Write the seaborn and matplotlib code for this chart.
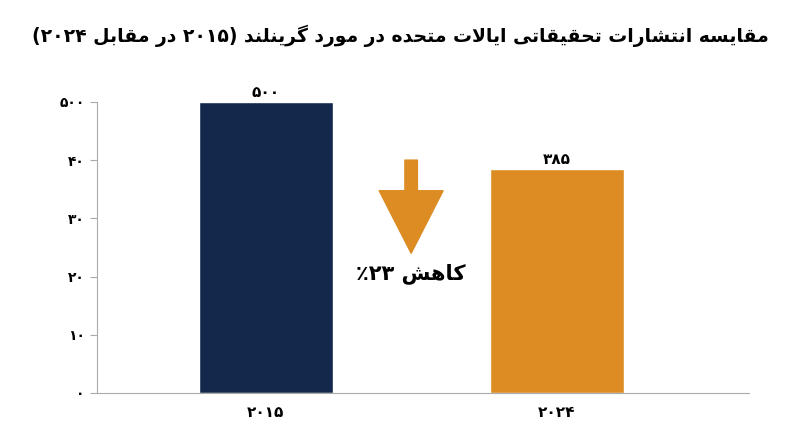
import matplotlib
matplotlib.use("Agg")
import matplotlib.pyplot as plt
import seaborn as sns

years = ["۲۰۱۵", "۲۰۲۴"]
counts = [500, 385]
count_labels = ["۵۰۰", "۳۸۵"]
ytick_vals = [0, 100, 200, 300, 400, 500]
ytick_labels = ["۰", "۱۰", "۲۰", "۳۰", "۴۰", "۵۰۰"]
colors = ["#14284b", "#dc8c23"]
title = "مقایسه انتشارات تحقیقاتی ایالات متحده در مورد گرینلند (۲۰۱۵ در مقابل ۲۰۲۴)"
change_text = "کاهش ۲۳٪"

# minimal Persian shaping (matplotlib does no Arabic joining or bidi)
FORMS = {
    "ا": (0xFE8D, 0xFE8E), "د": (0xFEA9, 0xFEAA), "ر": (0xFEAD, 0xFEAE), "و": (0xFEED, 0xFEEE),
    "ب": (0xFE8F, 0xFE90, 0xFE91, 0xFE92), "ت": (0xFE95, 0xFE96, 0xFE97, 0xFE98),
    "ح": (0xFEA1, 0xFEA2, 0xFEA3, 0xFEA4), "س": (0xFEB1, 0xFEB2, 0xFEB3, 0xFEB4),
    "ش": (0xFEB5, 0xFEB6, 0xFEB7, 0xFEB8), "ق": (0xFED5, 0xFED6, 0xFED7, 0xFED8),
    "ل": (0xFEDD, 0xFEDE, 0xFEDF, 0xFEE0), "م": (0xFEE1, 0xFEE2, 0xFEE3, 0xFEE4),
    "ن": (0xFEE5, 0xFEE6, 0xFEE7, 0xFEE8), "ه": (0xFEE9, 0xFEEA, 0xFEEB, 0xFEEC),
    "ک": (0xFB8E, 0xFB8F, 0xFB90, 0xFB91), "گ": (0xFB92, 0xFB93, 0xFB94, 0xFB95),
    "ی": (0xFBFC, 0xFBFD, 0xFBFE, 0xFBFF),
}


def shape(s):
    chars = list(s)
    out = []
    i = 0
    while i < len(chars):
        c = chars[i]
        if c not in FORMS:
            out.append(c)
            i += 1
            continue
        prev = chars[i - 1] if i > 0 else ""
        pj = prev in FORMS and len(FORMS[prev]) == 4
        if c == "ل" and i + 1 < len(chars) and chars[i + 1] == "ا":
            out.append(chr(0xFEFC if pj else 0xFEFB))
            i += 2
            continue
        nxt = chars[i + 1] if i + 1 < len(chars) else ""
        nj = nxt in FORMS and len(FORMS[c]) == 4
        f = FORMS[c]
        if pj and nj:
            g = f[3]
        elif pj:
            g = f[1]
        elif nj:
            g = f[2]
        else:
            g = f[0]
        out.append(chr(g))
        i += 1
    vis = "".join(out)[::-1]
    # restore digit runs, mirror parentheses
    res, run = [], ""
    for ch in vis:
        if "۰" <= ch <= "۹":
            run += ch
        else:
            res.append(run[::-1]); run = ""
            res.append({"(": ")", ")": "("}.get(ch, ch))
    res.append(run[::-1])
    return "".join(res)


sns.set_style("white")
plt.rcParams["font.family"] = ["DejaVu Sans"]

fig = plt.figure(figsize=(8, 4.47), dpi=100)
ax = fig.add_axes([0.121, 0.121, 0.815, 0.651])
sns.barplot(x=years, y=counts, palette=colors, hue=years, legend=False, width=0.46,
            saturation=1, ax=ax)
ax.set_xlim(-0.58, 1.66)
ax.set_ylim(0, 500)
for i, (v, lab) in enumerate(zip(counts, count_labels)):
    ax.text(i, v + 4, lab, ha="center", va="bottom", fontsize=11, fontweight="bold",
            color="black", clip_on=False)

ax.annotate("", xy=(0.5, 240), xytext=(0.5, 400),
            arrowprops=dict(facecolor=colors[1], edgecolor=colors[1], width=9, headwidth=46, headlength=45))
ax.text(0.5, 205, shape(change_text), ha="center", va="center", fontsize=15, fontweight="bold",
        color="black")

ax.set_yticks(ytick_vals)
ax.set_yticklabels(ytick_labels, fontsize=10, fontweight="bold")
ax.set_xticks([0, 1])
ax.set_xticklabels(years, fontsize=11, fontweight="bold")
ax.tick_params(axis="both", length=5, color="#aaaaaa", labelcolor="black", left=True, bottom=False)
for s in ["top", "right"]:
    ax.spines[s].set_visible(False)
for s in ["left", "bottom"]:
    ax.spines[s].set_color("#aaaaaa")

fig.text(0.5, 0.92, shape(title), ha="center", va="center", fontsize=13.5, fontweight="bold",
         color="black")
fig.savefig("out.png", dpi=100)
